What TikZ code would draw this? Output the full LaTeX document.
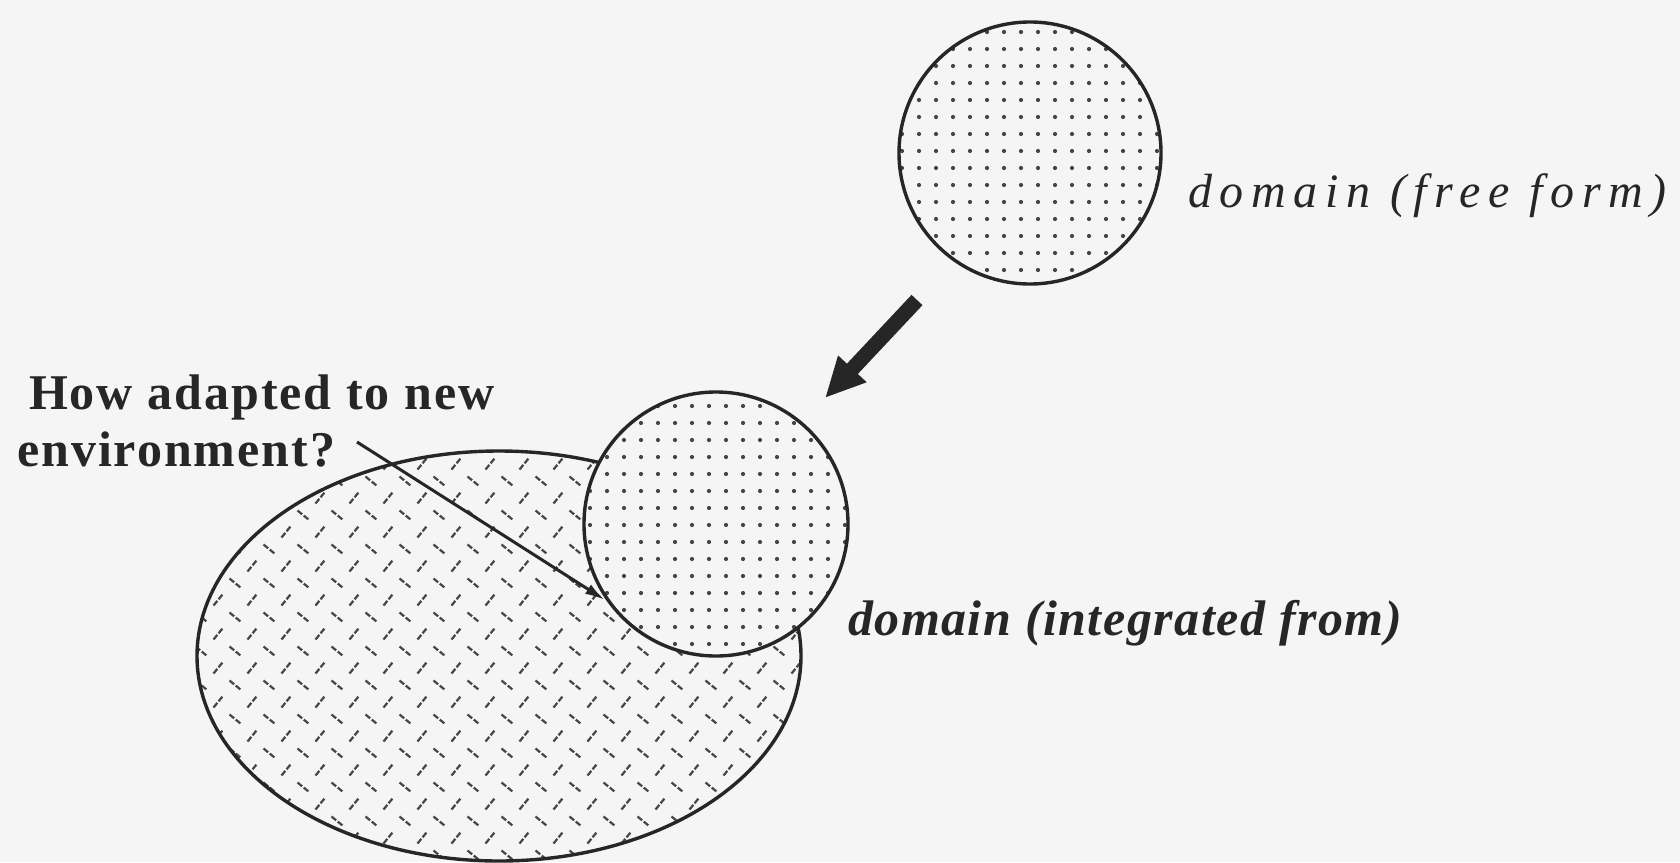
\documentclass[tikz,border=0pt]{standalone}
\usepackage{fontspec}
\setmainfont{Liberation Serif}
\usetikzlibrary{arrows.meta,shapes.geometric}
\definecolor{bgc}{RGB}{246,245,246}
\definecolor{ink}{RGB}{38,38,38}
\definecolor{dotc}{RGB}{70,70,70}
\tikzset{
  outline/.style={draw=ink, line width=3.4pt, fill=bgc, inner sep=0pt, outer sep=0pt},
  hatchline/.style={draw=dotc, line width=2.2pt, dash pattern=on 6pt off 2pt, line cap=butt},
  lbl/.style={inner sep=0pt, outer sep=0pt, text=ink},
  pointer/.style={draw=ink, line width=3pt, -{Latex[length=20pt,width=11pt]}},
  bigarrow/.style={draw=ink, line width=15pt, -{Triangle[length=40pt,width=36pt]}},
}
\begin{document}
\begin{tikzpicture}[x=1pt,y=-1pt]
\fill[bgc] (0,0) rectangle (1680,862);
\useasboundingbox (0,0) rectangle (1680,862);

% ellipse with hatch pattern (path picture coordinates relative to the node centre)
\node[outline, ellipse, minimum width=604pt, minimum height=410pt,
  path picture={
    \foreach \i in {0,...,19}{\foreach \j in {0,...,13}{
      \draw[hatchline] ({184-499+34*\i-4.5},{-(440-656+34*\j-5.5)}) -- ++(9,-11);
      \draw[hatchline] ({201-499+34*\i-5.5},{-(457-656+34*\j+4.5)}) -- ++(11,9);
    }}
  }] (env) at (499,656) {};

% middle circle (integrated)
\node[outline, circle, minimum size=264pt,
  path picture={
    \foreach \i in {0,...,17}{\foreach \j in {0,...,17}{
      \fill[dotc] ({573-716+17*\i},{-(387-524+17*\j)}) circle (2.1);
    }}
  }] (integc) at (716,524) {};

% top circle (free form)
\node[outline, circle, minimum size=262pt,
  path picture={
    \foreach \i in {0,...,17}{\foreach \j in {0,...,17}{
      \fill[dotc] ({902-1030+17*\i},{-(19-153+17*\j)}) circle (2.1);
    }}
  }] (freec) at (1030,153) {};

% labels
\node[lbl, anchor=base west, font=\fontsize{48}{56}\selectfont\itshape\addfontfeature{LetterSpace=16}] (freelbl) at (1188,207) {domain (free form)};
\node[lbl, anchor=base west, font=\fontsize{50}{56}\selectfont\bfseries\itshape\addfontfeature{LetterSpace=3}] (integlbl) at (848,635) {domain (integrated from)};
\node[lbl, anchor=base west, align=left, font=\fontsize{50}{57}\selectfont\bfseries\addfontfeature{LetterSpace=4}] (quest) at (17,466) {\hspace*{12pt}How adapted to new\\environment?};

% arrows
\coordinate (bs) at (917,300);
\coordinate (be) at (825,398);
\draw[bigarrow] (bs) -- (be);
\coordinate (qs) at (357,442);
\coordinate (qe) at (605,600);
\draw[pointer] (qs) -- (qe);
\end{tikzpicture}
\end{document}
